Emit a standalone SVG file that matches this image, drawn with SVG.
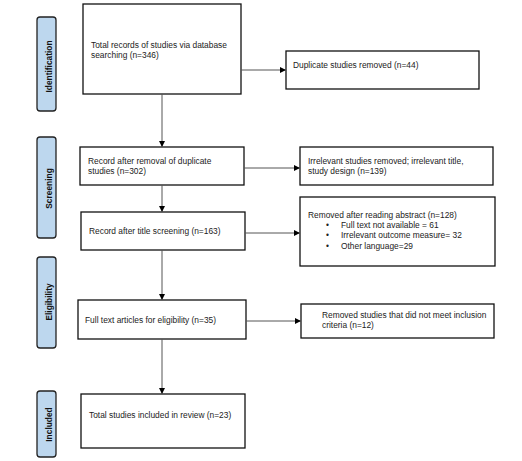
<svg xmlns="http://www.w3.org/2000/svg" width="522" height="461" viewBox="0 0 522 461">
<defs>
<marker id="ah" markerWidth="6" markerHeight="6" refX="5" refY="3" orient="auto" markerUnits="userSpaceOnUse">
<path d="M0,0 L6,3 L0,6 Z" fill="#000"/>
</marker>
<style>
.box{fill:#fff;stroke:#111;stroke-width:1.3}
.tab{fill:#bdd7ee;stroke:#222;stroke-width:1.3}
.t{font-family:"Liberation Sans",Arial,sans-serif;font-size:8.4px;fill:#222}
.tb{font-family:"Liberation Sans",Arial,sans-serif;font-size:8.4px;font-weight:bold;fill:#111}
.c{stroke:#555;stroke-width:1;fill:none;marker-end:url(#ah)}
</style>
</defs>
<rect width="522" height="461" fill="#fff"/>
<g id="tab-identification"><rect class="tab" x="37" y="17" width="19" height="94" rx="3"/><text class="tb" transform="translate(51.5,66.5) rotate(-90)" text-anchor="middle">Identification</text></g>
<g id="tab-screening"><rect class="tab" x="37" y="137" width="19" height="101" rx="3"/><text class="tb" transform="translate(51.5,188.5) rotate(-90)" text-anchor="middle">Screening</text></g>
<g id="tab-eligibility"><rect class="tab" x="37" y="257" width="19" height="91" rx="3"/><text class="tb" transform="translate(51.5,302) rotate(-90)" text-anchor="middle">Eligibility</text></g>
<g id="tab-included"><rect class="tab" x="37" y="391" width="19" height="66" rx="3"/><text class="tb" transform="translate(51.5,424.5) rotate(-90)" text-anchor="middle">Included</text></g>
<g id="box-total"><rect class="box" x="83" y="4" width="158" height="90"/><text class="t" x="91" y="48">Total records of studies via database</text><text class="t" x="91" y="58">searching (n=346)</text></g>
<g id="box-duplicate"><rect class="box" x="286" y="51" width="193" height="38"/><text class="t" x="293" y="68">Duplicate studies removed (n=44)</text></g>
<g id="box-after-dup"><rect class="box" x="80" y="147" width="164" height="38"/><text class="t" x="88" y="164">Record after removal of duplicate</text><text class="t" x="88" y="174">studies (n=302)</text></g>
<g id="box-irrelevant"><rect class="box" x="300" y="147" width="193" height="38"/><text class="t" x="308" y="164">Irrelevant studies removed; irrelevant title,</text><text class="t" x="308" y="174">study design (n=139)</text></g>
<g id="box-title"><rect class="box" x="81" y="212" width="164" height="38"/><text class="t" x="89" y="234">Record after title screening (n=163)</text></g>
<g id="box-abstract"><rect class="box" x="300" y="197" width="195" height="69"/><text class="t" x="308" y="218">Removed after reading abstract (n=128)</text><text class="t" x="326" y="228">•</text><text class="t" x="341" y="228">Full text not available = 61</text><text class="t" x="326" y="238">•</text><text class="t" x="341" y="238">Irrelevant outcome measure= 32</text><text class="t" x="326" y="249">•</text><text class="t" x="341" y="249">Other language=29</text></g>
<g id="box-eligibility"><rect class="box" x="78" y="300" width="168" height="39"/><text class="t" x="85" y="323">Full text articles for eligibility (n=35)</text></g>
<g id="box-excluded"><rect class="box" x="301" y="304" width="193" height="34"/><text class="t" x="322" y="318">Removed studies that did not meet inclusion</text><text class="t" x="322" y="328">criteria (n=12)</text></g>
<g id="box-included"><rect class="box" x="81" y="394" width="164" height="54"/><text class="t" x="89" y="418">Total studies included in review (n=23)</text></g>
<g id="connectors">
<line class="c" x1="241" y1="70" x2="285" y2="70"/>
<line class="c" x1="162" y1="94" x2="162" y2="146"/>
<line class="c" x1="244" y1="168" x2="299" y2="168"/>
<line class="c" x1="162" y1="185" x2="162" y2="211"/>
<line class="c" x1="245" y1="233" x2="299" y2="233"/>
<line class="c" x1="162" y1="250" x2="162" y2="299"/>
<line class="c" x1="246" y1="321" x2="300" y2="321"/>
<line class="c" x1="162" y1="339" x2="162" y2="393"/>
</g>
</svg>
